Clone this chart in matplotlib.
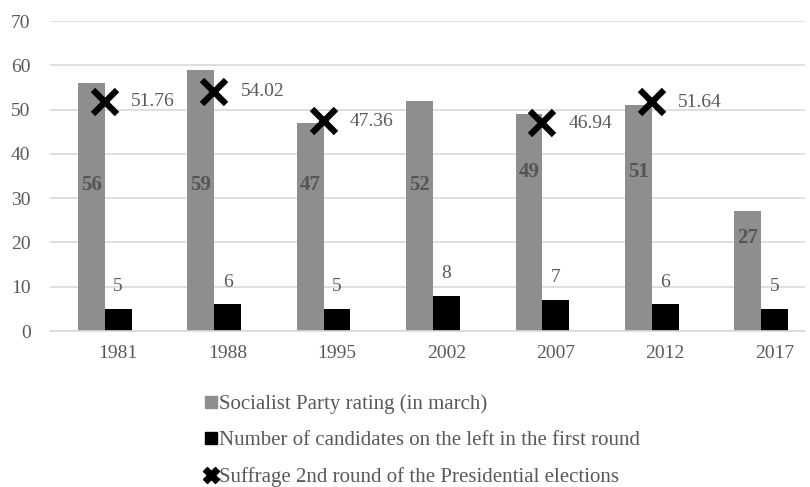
import numpy as np
import matplotlib.pyplot as plt
from matplotlib.lines import Line2D

years = ['1981', '1988', '1995', '2002', '2007', '2012', '2017']
ps_rating = [56, 59, 47, 52, 49, 51, 27]
n_left = [5, 6, 5, 8, 7, 6, 5]
second_round = [51.76, 54.02, 47.36, np.nan, 46.94, 51.64, np.nan]

# where the bold labels sit inside the grey bars (hand placed in the original)
ps_label_y = [33, 33, 33, 33, 36, 36, 21]

plt.rcParams['font.family'] = ['Liberation Serif', 'DejaVu Serif']

fig = plt.figure(figsize=(8.1, 4.87), dpi=100)
ax = fig.add_axes([50/810, 1-331/487, 755/810, 310/487])

x = np.arange(len(years))
w = 0.245
grey = '#8e8e8e'
txt = '#595959'

ax.bar(x - w/2, ps_rating, w, color=grey, zorder=2)
ax.bar(x + w/2, n_left, w, color='black', zorder=2)
ax.plot(x, second_round, linestyle='none', marker='x', color='black',
        markersize=17, markeredgewidth=4.5, zorder=3)

for i in range(len(years)):
    ax.text(x[i] - w/2, ps_label_y[i], str(ps_rating[i]), ha='center', va='center',
            fontsize=15, fontweight='bold', color='#555555', zorder=4)
    ax.text(x[i] + w/2, n_left[i] + 5, str(n_left[i]), ha='center', va='center',
            fontsize=14, color=txt, zorder=4)
    if not np.isnan(second_round[i]):
        ax.text(x[i] + 0.24, second_round[i], '%.2f' % second_round[i], ha='left',
                va='center', fontsize=14, color=txt, zorder=4)

ax.set_xlim(-0.5, 6.4)
ax.set_ylim(0, 70)
ax.set_yticks(range(0, 71, 10))
ax.set_xticks(x + w/2)
ax.set_xticklabels(years)
ax.tick_params(length=0, labelsize=14, labelcolor=txt)
ax.tick_params(axis='x', pad=10)
ax.tick_params(axis='y', pad=14)
ax.grid(axis='y', color='#d9d9d9', linewidth=1.2, zorder=0)
ax.set_axisbelow(True)
for s in ['top', 'right', 'left']:
    ax.spines[s].set_visible(False)
ax.spines['bottom'].set_color('#d9d9d9')
ax.spines['bottom'].set_linewidth(1.2)

handles = [
    Line2D([], [], linestyle='none', marker='s', color=grey, markersize=9),
    Line2D([], [], linestyle='none', marker='s', color='black', markersize=9),
    Line2D([], [], linestyle='none', marker='X', color='black', markersize=12),
]
labels = ['Socialist Party rating (in march)',
          'Number of candidates on the left in the first round',
          'Suffrage 2nd round of the Presidential elections']
leg = fig.legend(handles, labels, loc='upper left', bbox_to_anchor=(196/810, 1-386/487),
                 frameon=False, fontsize=15, handlelength=0.6, handletextpad=0.1,
                 labelspacing=0.8, borderaxespad=0)
for t in leg.get_texts():
    t.set_color(txt)

plt.savefig('out.png', dpi=100)
plt.close()
